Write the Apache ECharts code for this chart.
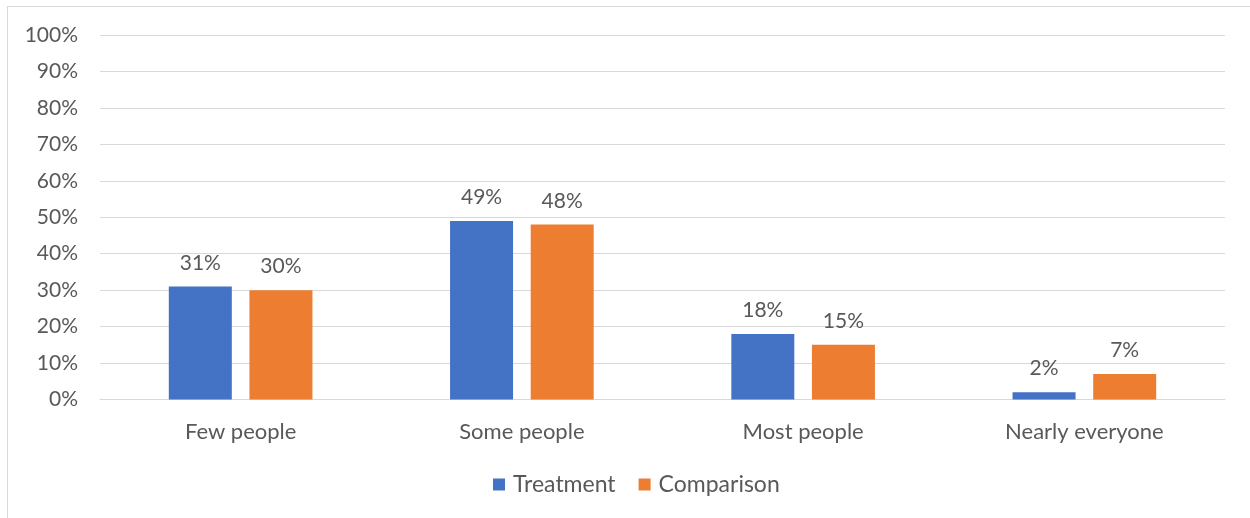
<!DOCTYPE html>
<html>
<head>
<meta charset="utf-8">
<script src="https://cdn.jsdelivr.net/npm/echarts@6/dist/echarts.min.js"></script>
<style>
  html, body { margin: 0; padding: 0; background: #fff; }
  #frame { position: absolute; left: 7px; top: 6px; width: 1260px; height: 530px; border: 1px solid #d9d9d9; box-sizing: border-box; }
  #chart { position: absolute; left: 0; top: 0; width: 1250px; height: 518px; }
</style>
</head>
<body>
<div id="frame"></div>
<div id="chart"></div>
<script>
// Share of respondents by how many people they think do it
const categories = ['Few people', 'Some people', 'Most people', 'Nearly everyone'];
const treatment = [31, 49, 18, 2];
const comparison = [30, 48, 15, 7];
const seriesNames = ['Treatment', 'Comparison'];

const textColor = '#595959';
const fontFamily = 'Lato, "Open Sans", sans-serif';

const chart = echarts.init(document.getElementById('chart'), null, { renderer: 'canvas' });

const labelCfg = {
  show: true,
  position: 'top',
  distance: 13,
  color: textColor,
  fontSize: 21,
  fontFamily: fontFamily,
  formatter: p => p.value + '%'
};

chart.setOption({
  animation: false,
  textStyle: { fontFamily: fontFamily },
  grid: { left: 100, right: 25, top: 35, bottom: 118.5, containLabel: false },
  legend: {
    data: seriesNames,
    bottom: 17,
    left: 488,
    itemWidth: 12,
    itemHeight: 12,
    itemGap: 23,
    icon: 'rect',
    textStyle: { color: textColor, fontSize: 23, fontFamily: fontFamily, padding: [0, 0, 0, 3] }
  },
  xAxis: {
    type: 'category',
    data: categories,
    axisLine: { show: true, lineStyle: { color: '#d9d9d9', width: 1 } },
    axisTick: { show: false },
    axisLabel: { color: textColor, fontSize: 22, fontFamily: fontFamily, margin: 21 }
  },
  yAxis: {
    type: 'value',
    min: 0,
    max: 100,
    interval: 10,
    axisLine: { show: false },
    axisTick: { show: false },
    splitLine: { lineStyle: { color: '#d9d9d9', width: 1 } },
    axisLabel: { color: textColor, fontSize: 21, fontFamily: fontFamily, margin: 22, formatter: v => v + '%' }
  },
  series: [
    {
      name: seriesNames[0],
      type: 'bar',
      data: treatment,
      barWidth: '22.4%',
      barGap: '28%',
      itemStyle: { color: '#4472C4' },
      label: labelCfg
    },
    {
      name: seriesNames[1],
      type: 'bar',
      data: comparison,
      barWidth: '22.4%',
      itemStyle: { color: '#ED7D31' },
      label: labelCfg
    }
  ]
});
</script>
</body>
</html>
